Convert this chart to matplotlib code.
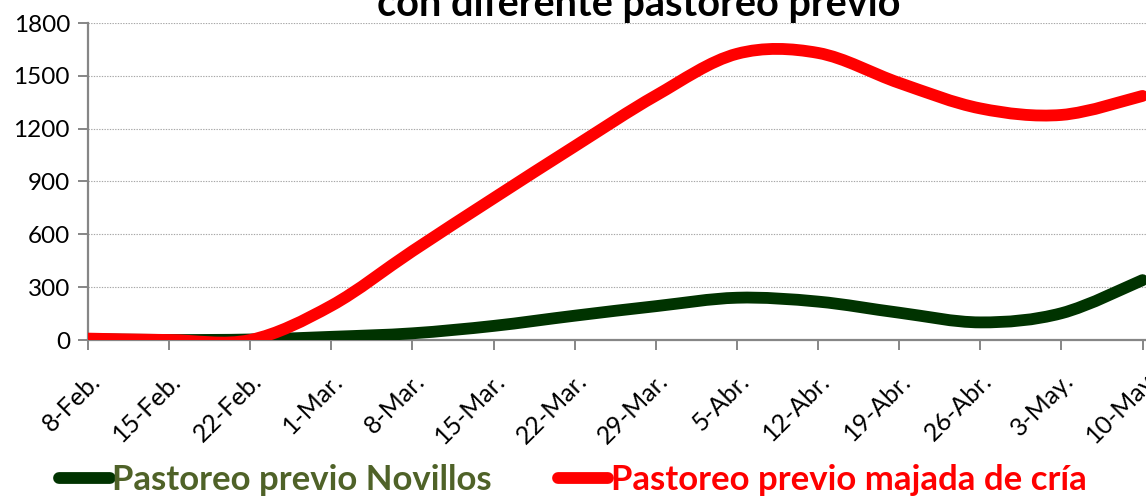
import matplotlib
matplotlib.use("Agg")
import matplotlib.pyplot as plt
from matplotlib.path import Path
from matplotlib.patches import PathPatch
from matplotlib.lines import Line2D
import matplotlib.transforms as mtransforms
import numpy as np

# ---- data ----
dates = ["8-Feb.", "15-Feb.", "22-Feb.", "1-Mar.", "8-Mar.", "15-Mar.", "22-Mar.",
         "29-Mar.", "5-Abr.", "12-Abr.", "19-Abr.", "26-Abr.", "3-May.", "10-May"]
day_offsets = [0, 7, 14, 21, 28, 35, 42, 49, 56, 63, 70, 77, 84, 91]
novillos = [5, 0, 3, 18, 38, 80, 138, 192, 240, 218, 155, 100, 152, 340]
majada = [8, 0, 0, 195, 505, 805, 1100, 1388, 1625, 1630, 1460, 1315, 1278, 1386]
y_ticks = [0, 300, 600, 900, 1200, 1500, 1800]

label_nov = "Pastoreo previo Novillos"
label_maj = "Pastoreo previo majada de cría"
title = "con diferente pastoreo previo"

col_nov = "#003300"
col_nov_text = "#4F6228"
col_maj = "#FF0000"

FONT = "Lato"


def smooth_path(x, y):
    """Excel-style smoothed line as cubic Bezier segments (Catmull-Rom)."""
    pts = np.column_stack([x, y]).astype(float)
    n = len(pts)
    verts = [pts[0]]
    codes = [Path.MOVETO]
    for i in range(n - 1):
        p0 = pts[i - 1] if i > 0 else pts[i]
        p1 = pts[i]
        p2 = pts[i + 1]
        p3 = pts[i + 2] if i + 2 < n else pts[i + 1]
        c1 = p1 + (p2 - p0) / 6.0
        c2 = p2 - (p3 - p1) / 6.0
        verts += [c1, c2, p2]
        codes += [Path.CURVE4] * 3
    return Path(verts, codes)


fig = plt.figure(figsize=(11.46, 4.98), dpi=100)
ax = fig.add_axes([88 / 1146, 1 - 340 / 498, (1146 - 88) / 1146, (340 - 23) / 498])

ax.set_xlim(0, 91.3)
ax.set_ylim(0, 1800)

for data, col, z in [(novillos, col_nov, 3), (majada, col_maj, 4)]:
    patch = PathPatch(smooth_path(day_offsets, data), facecolor="none",
                      edgecolor=col, linewidth=8.5, capstyle="round",
                      joinstyle="round", zorder=z)
    ax.add_patch(patch)

ax.set_yticks(y_ticks)
ax.set_yticklabels([str(v) for v in y_ticks], fontsize=17.5, family=FONT)
ax.set_xticks(day_offsets)
ax.set_xticklabels(dates, rotation=45, ha="right", va="top",
                   rotation_mode="anchor", fontsize=18, family=FONT)
offset = mtransforms.ScaledTranslation(8 / 100, 0, fig.dpi_scale_trans)
for lbl in ax.get_xticklabels():
    lbl.set_transform(lbl.get_transform() + offset)

ax.grid(axis="y", color="#a6a6a6", linestyle=(0, (1.2, 1.2)), linewidth=0.8)
ax.set_axisbelow(True)
for s in ["top", "right"]:
    ax.spines[s].set_visible(False)
for s in ["left", "bottom"]:
    ax.spines[s].set_color("#868686")
    ax.spines[s].set_linewidth(1.6)
ax.tick_params(axis="both", colors="#868686", length=7, width=1.4,
               labelcolor="black")
ax.tick_params(axis="y", pad=6)
ax.tick_params(axis="x", pad=14)

fig.text(639 / 1146, 1 - 16 / 498, title, ha="center", va="baseline",
         fontsize=28.5, fontweight="bold", family=FONT)

handles = [Line2D([], [], color=col_nov, linewidth=8.5, solid_capstyle="round"),
           Line2D([], [], color=col_maj, linewidth=8.5, solid_capstyle="round")]
leg = fig.legend(handles, [label_nov, label_maj], loc="center",
                 bbox_to_anchor=(573 / 1146, 1 - 480 / 498), ncol=2,
                 frameon=False, handlelength=1.45, handletextpad=0.08,
                 columnspacing=1.9,
                 prop={"family": FONT, "weight": "bold", "size": 25})
for t, c in zip(leg.get_texts(), [col_nov_text, col_maj]):
    t.set_color(c)

fig.savefig("out.png", dpi=100)
